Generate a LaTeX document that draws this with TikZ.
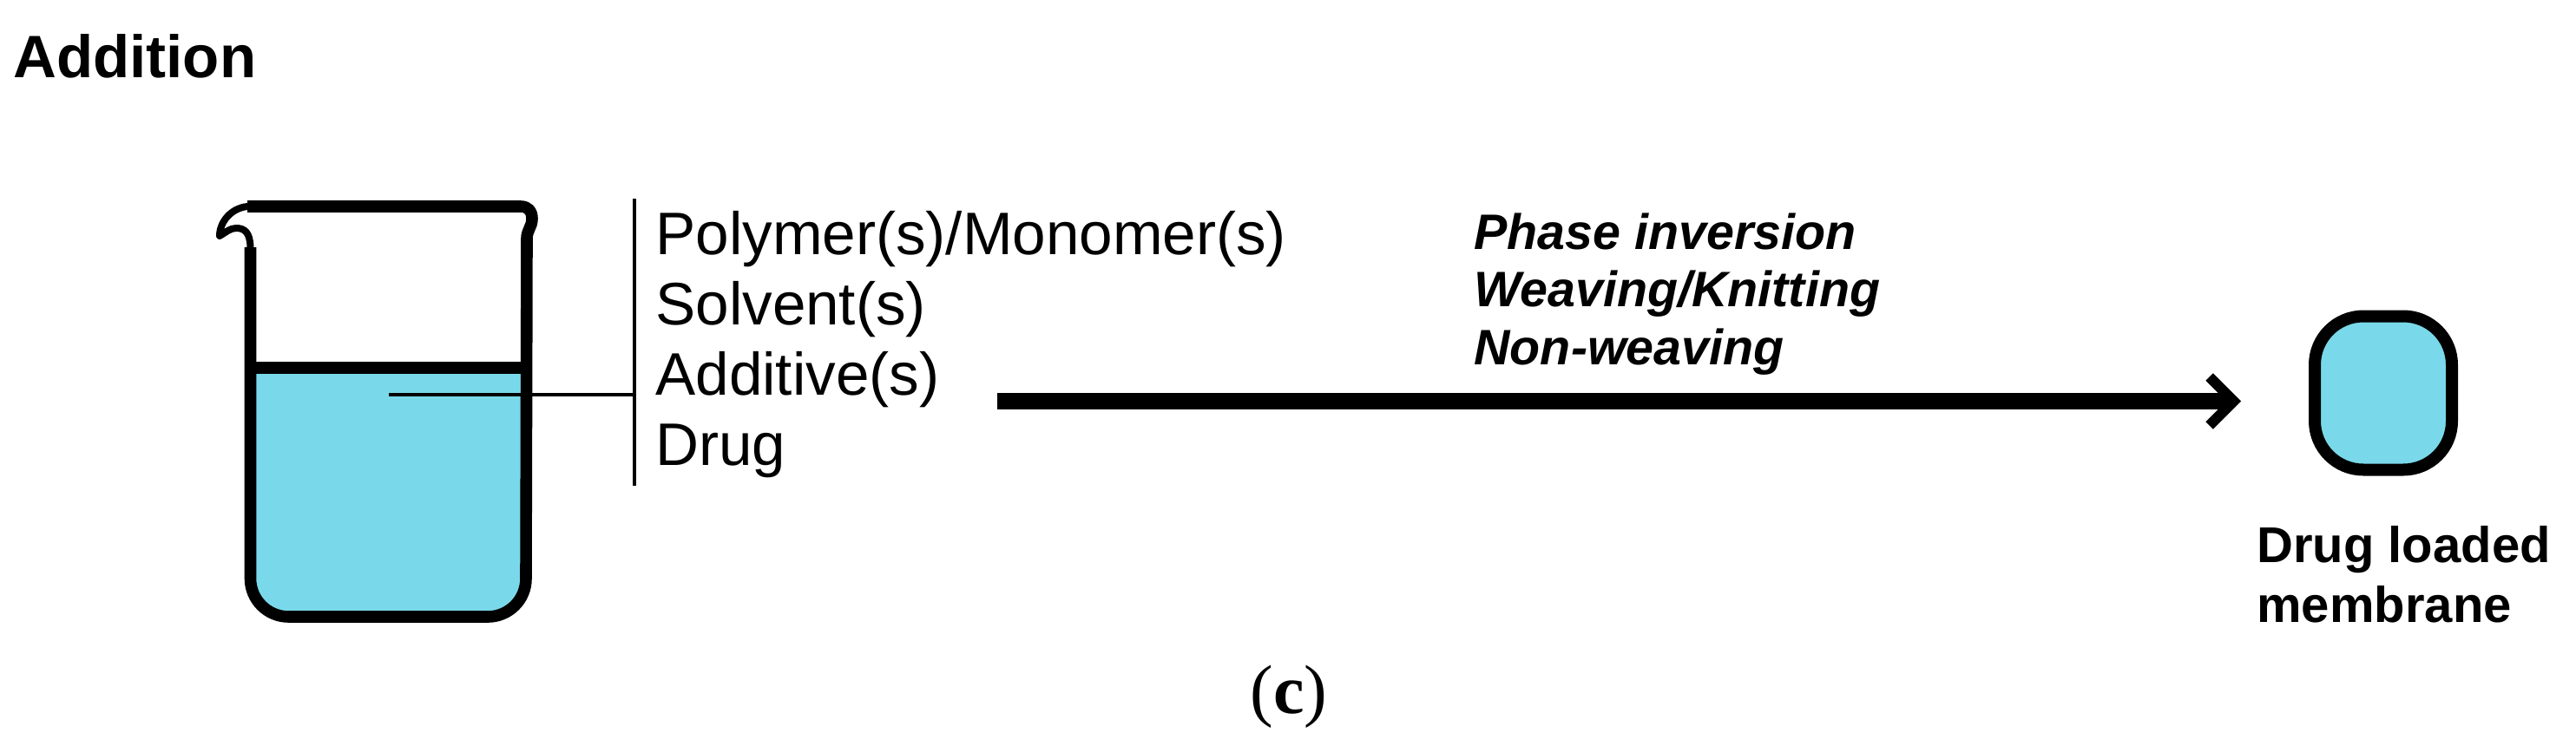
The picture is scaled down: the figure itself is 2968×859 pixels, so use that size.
\documentclass[tikz,border=0pt]{standalone}
\usepackage{fontspec}
\setmainfont{Liberation Sans}
\newfontfamily\capfont{Liberation Serif}
\usetikzlibrary{arrows.meta}
\definecolor{liquidblue}{HTML}{79D9EA}
\begin{document}
\begin{tikzpicture}[
	x=0.5pt, y=-0.5pt,
	inner sep=0pt,
	headnode/.style={anchor=base west, font=\fontsize{34.5}{40}\selectfont\bfseries},
	itemnode/.style={anchor=base west, font=\fontsize{34.6}{40}\selectfont},
	methodnode/.style={anchor=base west, font=\fontsize{28.7}{34}\selectfont\bfseries\itshape},
	resultnode/.style={anchor=base west, font=\fontsize{29}{34}\selectfont\bfseries},
	glassline/.style={line width=6.8pt, line join=round},
	lipline/.style={line width=4pt, line join=round, line cap=round},
	thinline/.style={line width=1.75pt},
]
\useasboundingbox (0,0) rectangle (2968,859);

\node[headnode] (addition) at (15,89) {Addition};

% beaker
\fill[liquidblue] (290,424) -- (606,424) -- (606,667) arc (0:90:44) -- (332.5,711) arc (90:180:44) -- cycle;
\draw[glassline] (606,424) -- (288.5,424);
\draw[glassline] (288.5,285) -- (288.5,667) arc (180:90:44) -- (562,711) arc (90:0:44) -- (607,275)
	.. controls (607,265) and (613,262) .. (613,252) .. controls (613,243) and (608,238) .. (600,238) -- (285,238);
\draw[lipline] (288.5,285) .. controls (288,268) and (282,263) .. (272,263) .. controls (265,263) and (260,268) .. (253,272)
	.. controls (253,256) and (266,240) .. (285,238);

% list of components
\coordinate (liquid) at (448,455);
\coordinate (bracetop) at (731,229);
\coordinate (bracemid) at (731,455);
\coordinate (bracebot) at (731,560);
\draw[thinline] (bracetop) -- (bracebot);
\draw[thinline] (liquid) -- (bracemid);
\node[itemnode] (polymer) at (755,293) {Polymer(s)/Monomer(s)};
\node[itemnode] (solvent) at (755,374) {Solvent(s)};
\node[itemnode] (additive) at (755,455) {Additive(s)};
\node[itemnode] (drug) at (755,536) {Drug};

% methods
\node[methodnode] (phase) at (1698,287) {Phase inversion};
\node[methodnode] (weaving) at (1698,353) {Weaving/Knitting};
\node[methodnode] (nonweaving) at (1698,420) {Non-weaving};

\coordinate (arrowstart) at (1149,462.5);
\coordinate (arrowend) at (2582,462.5);
\draw[line width=9.5pt, -{Straight Barb[length=14pt, width=28pt, line width=6pt]}] (arrowstart) -- (arrowend);

% membrane
\node[draw, fill=liquidblue, line width=7pt, rounded corners=28pt, minimum width=79pt, minimum height=88.5pt] (membrane) at (2746,453) {};
\node[resultnode] (loaded) at (2600,648) {Drug loaded};
\node[resultnode] (membranetext) at (2600,717) {membrane};

\node[anchor=base west, font=\capfont\fontsize{40}{46}\selectfont] (caption) at (1440,822) {(\textbf{c})};
\end{tikzpicture}
\end{document}
